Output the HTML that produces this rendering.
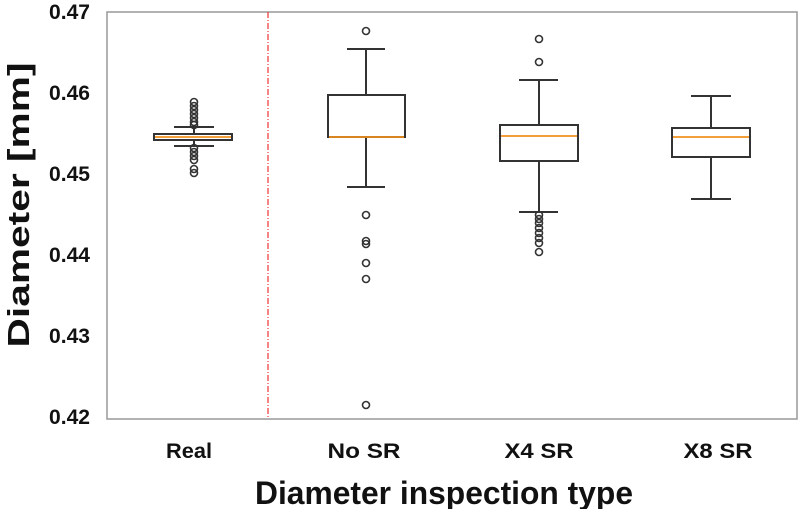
<!DOCTYPE html>
<html><head><style>body{margin:0;background:#fff}</style></head><body>
<svg width="800" height="509" xmlns="http://www.w3.org/2000/svg" font-family="Liberation Sans, sans-serif">
<rect x="107" y="12" width="690" height="407" fill="none" stroke="#999" stroke-width="1.5"/>
<line x1="268" y1="12" x2="268" y2="419" stroke="#e33" stroke-width="1.2" stroke-dasharray="6,2,1,2"/>
<g font-size="21" font-weight="bold" text-anchor="end" fill="#111">
<text x="90" y="19" textLength="41" lengthAdjust="spacingAndGlyphs">0.47</text><text x="90" y="100" textLength="41" lengthAdjust="spacingAndGlyphs">0.46</text><text x="90" y="181" textLength="41" lengthAdjust="spacingAndGlyphs">0.45</text>
<text x="90" y="262" textLength="41" lengthAdjust="spacingAndGlyphs">0.44</text><text x="90" y="343" textLength="41" lengthAdjust="spacingAndGlyphs">0.43</text><text x="90" y="424" textLength="41" lengthAdjust="spacingAndGlyphs">0.42</text>
</g>
<g font-size="21" font-weight="bold" text-anchor="middle" fill="#111">
<text x="189" y="458" textLength="46" lengthAdjust="spacingAndGlyphs">Real</text><text x="364" y="458" textLength="73" lengthAdjust="spacingAndGlyphs">No SR</text><text x="539" y="458" textLength="69" lengthAdjust="spacingAndGlyphs">X4 SR</text><text x="718" y="458" textLength="69" lengthAdjust="spacingAndGlyphs">X8 SR</text>
</g>
<text x="444" y="504" font-size="32" font-weight="bold" text-anchor="middle" fill="#111" textLength="378" lengthAdjust="spacingAndGlyphs">Diameter inspection type</text>
<text transform="translate(29,205) rotate(-90)" font-size="31" font-weight="bold" text-anchor="middle" fill="#111" textLength="285" lengthAdjust="spacingAndGlyphs">Diameter [mm]</text>
<g stroke="#333" stroke-width="2" fill="none">
<line x1="194" y1="127" x2="194" y2="146"/><line x1="174" y1="127" x2="214" y2="127"/><line x1="174" y1="146" x2="214" y2="146"/>
<rect x="154" y="134" width="78" height="6" fill="#fff"/>
<line x1="366" y1="49" x2="366" y2="95"/><line x1="366" y1="137" x2="366" y2="187"/>
<line x1="347" y1="49" x2="385" y2="49"/><line x1="347" y1="187" x2="385" y2="187"/>
<rect x="328" y="95" width="77" height="42"/>
<line x1="539" y1="80" x2="539" y2="125"/><line x1="539" y1="161" x2="539" y2="212"/>
<line x1="519" y1="80" x2="558" y2="80"/><line x1="519" y1="212" x2="558" y2="212"/>
<rect x="500" y="125" width="78" height="36"/>
<line x1="711" y1="96" x2="711" y2="128"/><line x1="711" y1="157" x2="711" y2="199"/>
<line x1="691" y1="96" x2="731" y2="96"/><line x1="691" y1="199" x2="731" y2="199"/>
<rect x="672" y="128" width="78" height="29"/>
</g>
<g stroke="#f0901e" stroke-width="1.8">
<line x1="155" y1="137" x2="231" y2="137"/><line x1="329" y1="137" x2="404" y2="137"/>
<line x1="501" y1="136" x2="577" y2="136"/><line x1="673" y1="137" x2="749" y2="137"/>
</g>
<g stroke="#333" stroke-width="1.6" fill="none">
<circle cx="194" cy="102" r="3.5"/><circle cx="194" cy="106" r="3.5"/><circle cx="194" cy="110" r="3.5"/><circle cx="194" cy="114" r="3.5"/><circle cx="194" cy="118" r="3.5"/><circle cx="194" cy="122" r="3.5"/><circle cx="194" cy="125" r="3.5"/>
<circle cx="194" cy="148" r="3.5"/><circle cx="194" cy="152" r="3.5"/><circle cx="194" cy="156" r="3.5"/><circle cx="194" cy="160" r="3.5"/><circle cx="194" cy="169" r="3.5"/><circle cx="194" cy="173" r="3.5"/>
<circle cx="366" cy="31" r="3.5"/><circle cx="366" cy="215" r="3.5"/><circle cx="366" cy="241" r="3.5"/><circle cx="366" cy="244" r="3.5"/><circle cx="366" cy="263" r="3.5"/><circle cx="366" cy="279" r="3.5"/><circle cx="366" cy="405" r="3.5"/>
<circle cx="539" cy="39" r="3.5"/><circle cx="539" cy="62" r="3.5"/>
<circle cx="539" cy="215" r="3.5"/><circle cx="539" cy="219" r="3.5"/><circle cx="539" cy="223" r="3.5"/><circle cx="539" cy="228" r="3.5"/><circle cx="539" cy="233" r="3.5"/><circle cx="539" cy="238" r="3.5"/><circle cx="539" cy="243" r="3.5"/><circle cx="539" cy="252" r="3.5"/>
</g>
</svg>
</body></html>
